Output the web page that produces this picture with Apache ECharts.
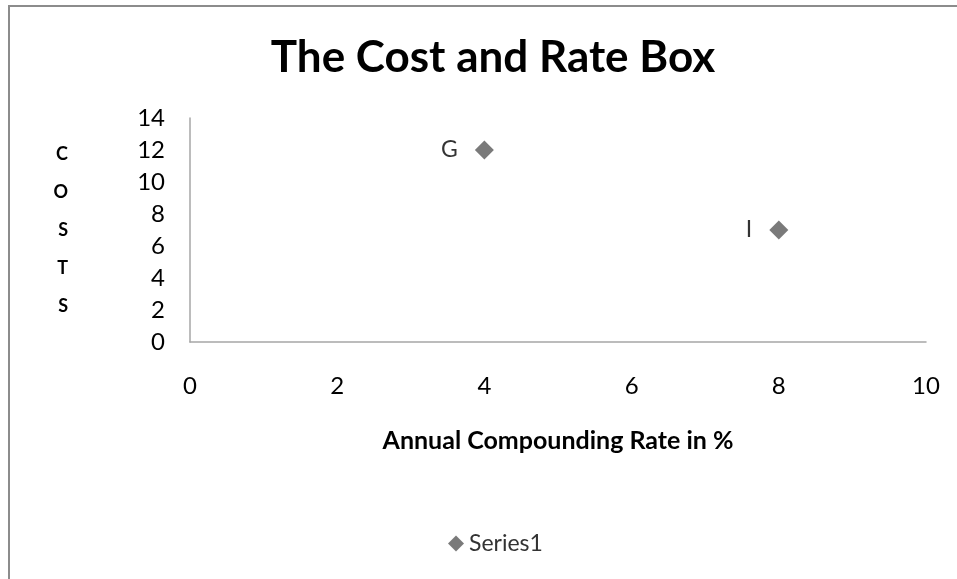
<!DOCTYPE html>
<html><head><meta charset="utf-8">
<script src="https://cdn.jsdelivr.net/npm/echarts@6/dist/echarts.min.js"></script>
<style>html,body{margin:0;padding:0;background:#fff}#c{width:957px;height:579px}</style>
</head><body><div id="c"></div>
<script>
const pointNames = ['G', 'I'];
const rates = [4, 8];
const costs = [12, 7];
const xTicks = [0, 2, 4, 6, 8, 10];
const yTicks = [0, 2, 4, 6, 8, 10, 12, 14];
const seriesName = 'Series1';

const chart = echarts.init(document.getElementById('c'));
const font = 'Lato, "Open Sans", sans-serif';
chart.setOption({
  backgroundColor: '#fff',
  animation: false,
  graphic: [{
    type: 'rect', shape: { x: 9, y: 6, width: 1000, height: 600 },
    style: { fill: 'none', stroke: '#8c8c8c', lineWidth: 2 }, silent: true
  }],
  title: {
    text: 'The Cost and Rate Box', left: 488, top: 31, textAlign: 'center',
    textStyle: { fontFamily: font, fontWeight: 'bold', fontSize: 44, color: '#000' }
  },
  legend: {
    data: [seriesName], top: 527, left: 443, itemWidth: 16, itemHeight: 16, itemGap: 4,
    textStyle: { fontFamily: font, fontSize: 23, color: '#333' }
  },
  grid: { left: 190, right: 31, top: 118, bottom: 237, containLabel: false },
  xAxis: {
    type: 'value', min: xTicks[0], max: xTicks[xTicks.length - 1], interval: 2,
    name: 'Annual Compounding Rate in %', nameLocation: 'middle', nameGap: 86,
    nameTextStyle: { fontFamily: font, fontWeight: 'bold', fontSize: 25, color: '#000' },
    axisLine: { show: true, lineStyle: { color: '#a6a6a6', width: 1.5 } },
    axisTick: { show: false }, splitLine: { show: false },
    axisLabel: { fontFamily: font, fontSize: 24, color: '#000', margin: 32 }
  },
  yAxis: {
    type: 'value', min: yTicks[0], max: yTicks[yTicks.length - 1], interval: 2,
    name: 'C\nO\nS\nT\nS', nameLocation: 'middle', nameRotate: 0, nameGap: 122,
    nameTextStyle: { fontFamily: font, fontWeight: 'bold', fontSize: 18, color: '#000', lineHeight: 38 },
    axisLine: { show: true, lineStyle: { color: '#a6a6a6', width: 1.5 } },
    axisTick: { show: false }, splitLine: { show: false },
    axisLabel: { fontFamily: font, fontSize: 24, color: '#000', margin: 25 }
  },
  series: [{
    name: seriesName, type: 'scatter', symbol: 'diamond', symbolSize: 19,
    itemStyle: { color: '#595959' },
    data: rates.map((r, i) => ({ value: [r, costs[i]], name: pointNames[i] })),
    label: {
      show: true, position: 'left', distance: 17, formatter: p => p.name,
      fontFamily: font, fontSize: 23, color: '#000'
    }
  }]
});
</script></body></html>
